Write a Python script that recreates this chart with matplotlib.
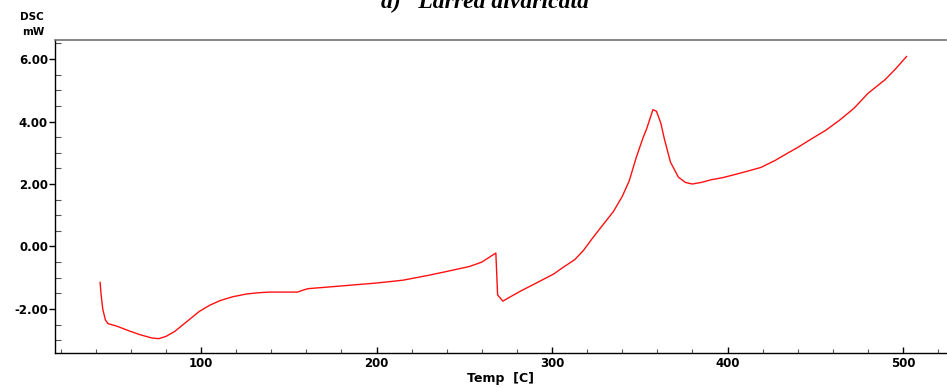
import matplotlib
matplotlib.use('Agg')
import matplotlib.pyplot as plt
from matplotlib.ticker import MultipleLocator, FormatStrFormatter

# DSC trace
temp = [42.5, 43, 44, 45.5, 47, 52, 58, 65, 72, 76,
        80, 85, 92, 99, 105, 111, 118, 126, 133, 139,
        147, 155, 158, 161, 170, 185, 200, 215, 229, 240,
        253, 260, 268, 269, 272, 276, 282, 290, 301, 306,
        313, 318, 323, 328, 335, 340, 344, 348, 352, 354,
        357.5, 359.5, 362, 364, 367.5, 372, 376, 380, 385, 391,
        397, 404, 412, 419, 427, 434, 440, 448, 456, 464,
        472, 480, 490, 496, 502]
dsc = [-1.15, -1.5, -2.0, -2.35, -2.47, -2.55, -2.68, -2.82, -2.93, -2.95,
       -2.88, -2.72, -2.4, -2.08, -1.88, -1.73, -1.61, -1.52, -1.48, -1.46,
       -1.46, -1.46, -1.40, -1.35, -1.31, -1.24, -1.17, -1.08, -0.93, -0.80,
       -0.64, -0.50, -0.21, -1.55, -1.75, -1.62, -1.43, -1.20, -0.88, -0.68,
       -0.42, -0.12, 0.26, 0.62, 1.12, 1.6, 2.1, 2.85, 3.5, 3.78,
       4.38, 4.33, 3.95, 3.45, 2.70, 2.22, 2.05, 2.00, 2.05, 2.14,
       2.20, 2.30, 2.42, 2.53, 2.75, 2.98, 3.17, 3.45, 3.72, 4.05,
       4.42, 4.90, 5.35, 5.70, 6.08]

title = 'a)   Larrea divaricata'


def main():
    fig = plt.figure(figsize=(9.47, 3.87), dpi=100)
    ax = fig.add_axes([55 / 947, 34 / 387, 891 / 947, 313 / 387])
    ax.plot(temp, dsc, color='#ff1010', lw=1.0)

    ax.set_xlim(16.8, 524.5)
    ax.set_ylim(-3.41, 6.61)

    ax.xaxis.set_major_locator(MultipleLocator(100))
    ax.xaxis.set_minor_locator(MultipleLocator(20))
    ax.yaxis.set_major_locator(MultipleLocator(2))
    ax.yaxis.set_minor_locator(MultipleLocator(0.5))
    ax.yaxis.set_major_formatter(FormatStrFormatter('%.2f'))

    ax.tick_params(axis='y', which='major', direction='out', length=4,
                   width=1, pad=1, labelsize=8.5)
    ax.tick_params(axis='y', which='minor', direction='in', length=4,
                   width=0.8, color='#555555')
    ax.tick_params(axis='x', which='major', direction='in', length=4,
                   width=1, pad=3, labelsize=8.5)
    ax.tick_params(axis='x', which='minor', direction='in', length=3,
                   width=0.8, color='#555555')
    for lab in ax.get_xticklabels() + ax.get_yticklabels():
        lab.set_fontweight('bold')

    ax.spines['right'].set_visible(False)
    ax.spines['top'].set_color('#707070')
    ax.spines['top'].set_linewidth(1.2)
    ax.spines['left'].set_linewidth(1.0)
    ax.spines['bottom'].set_linewidth(1.0)

    ax.set_xlabel('Temp  [C]', fontsize=9, fontweight='bold', labelpad=1)

    fig.text(20 / 947, 1 - 17 / 387, 'DSC', fontsize=7.5, fontweight='bold',
             va='center')
    fig.text(22 / 947, 1 - 32 / 387, 'mW', fontsize=7.5, fontweight='bold',
             va='center')
    fig.text(485 / 947, 1 - 8 / 387, title, fontsize=17, ha='center',
             va='baseline', family='Liberation Serif', style='italic',
             weight='bold')

    fig.savefig('out.png', dpi=100)


if __name__ == '__main__':
    main()
